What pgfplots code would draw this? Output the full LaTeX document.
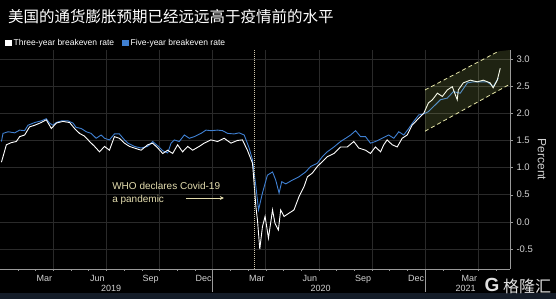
\documentclass[border=0pt]{standalone}
\usepackage{pgfplots}
\pgfplotsset{compat=1.18}
\usepackage{fontspec}
\setmainfont{Liberation Sans}
\newfontfamily\cjk{Noto Sans CJK SC}
\usetikzlibrary{arrows.meta}
\definecolor{fivey}{HTML}{3F80D2}
\definecolor{gridc}{HTML}{2A2A2A}
\definecolor{ticklab}{HTML}{D2D2D2}
\definecolor{annot}{HTML}{E3DCAE}
\definecolor{vline}{HTML}{CFC6AA}
\definecolor{hl}{HTML}{D6EC7A}
\definecolor{hldash}{HTML}{E6E6A8}
\definecolor{band}{HTML}{141C28}
\definecolor{axc}{HTML}{9A9A9A}

\begin{document}
\begin{tikzpicture}
\fill[black] (0pt,0pt) rectangle (556pt,299pt);
\fill[band] (0pt,0pt) rectangle (556pt,6pt);
\useasboundingbox (0pt,0pt) rectangle (556pt,299pt);
\node[anchor=west, text=white, font=\cjk\fontsize{15.5}{18}\selectfont, inner sep=0pt] at (8pt,282pt) {美国的通货膨胀预期已经远远高于疫情前的水平};
\begin{axis}[
  at={(0pt,30pt)}, anchor=south west, scale only axis,
  width=510pt, height=219pt,
  xmin=0, xmax=28.8, ymin=-0.868, ymax=3.166,
  clip=false,
  axis x line*=bottom, axis y line*=right,
  axis line style={color=axc, line width=0.6pt},
  xtick={2.5,5.5,...,26.5},
  xticklabels={Mar,Jun,Sep,Dec,Mar,Jun,Sep,Dec,Mar},
  major x tick style={draw=none},
  minor xtick={1,2,...,28},
  minor x tick style={color=axc},
  minor tick length=2pt,
  extra x ticks={3,6,9,12,15,18,21,24,27},
  extra x tick labels={},
  extra x tick style={xmajorgrids=true, major tick length=0pt, major grid style={color=gridc, line width=0.5pt}},
  ytick={-0.5,0,0.5,1,1.5,2,2.5,3},
  ymajorgrids=true,
  major grid style={color=gridc, line width=0.5pt},
  y tick style={color=axc},
  tick align=outside,
  major tick length=3pt,
  yticklabel style={/pgf/number format/fixed, /pgf/number format/precision=1, /pgf/number format/fixed zerofill, text=ticklab, font=\fontsize{9.5}{10}\selectfont},
  xticklabel style={text=ticklab, font=\fontsize{9}{10}\selectfont},
  /pgf/number format/assume math mode=true,
  legend style={at={(0.0098,1.032)}, anchor=west, draw=none, fill=none, text=white,
    font=\fontsize{8.5}{10}\selectfont, inner sep=0pt,
    /tikz/every even column/.append style={column sep=6pt}},
  legend columns=2,
  reverse legend,
  legend image code/.code={\fill[#1] (0pt,-2.8pt) rectangle (5.5pt,2.8pt);},
]
\addplot[color=fivey, line width=0.9pt] table {
0.08 1.48
0.17 1.63
0.46 1.66
0.83 1.64
1.11 1.69
1.39 1.68
1.58 1.78
1.96 1.83
2.33 1.86
2.61 1.90
2.80 1.82
2.99 1.78
3.18 1.83
3.46 1.86
3.84 1.86
4.12 1.82
4.30 1.74
4.59 1.72
4.87 1.66
5.15 1.63
5.43 1.54
5.71 1.60
5.90 1.54
6.18 1.51
6.46 1.62
6.74 1.62
7.03 1.51
7.22 1.45
7.59 1.39
7.97 1.36
8.34 1.39
8.62 1.48
8.91 1.40
9.19 1.31
9.47 1.27
9.66 1.45
9.84 1.51
10.12 1.48
10.41 1.60
10.69 1.54
10.97 1.57
11.35 1.63
11.63 1.69
11.91 1.68
12.29 1.69
12.57 1.68
12.85 1.63
13.22 1.62
13.50 1.64
13.79 1.60
14.07 1.36
14.26 1.14
14.45 0.65
14.60 0.22
14.82 0.53
15.10 0.86
15.39 0.92
15.57 0.77
15.76 0.53
15.91 0.74
16.14 0.70
16.51 0.77
16.88 0.83
17.26 0.92
17.54 1.02
17.92 1.08
18.20 1.20
18.48 1.29
18.86 1.38
19.23 1.48
19.52 1.54
19.80 1.60
20.08 1.68
20.36 1.57
20.64 1.57
20.92 1.45
21.20 1.48
21.58 1.54
21.95 1.60
22.24 1.54
22.52 1.66
22.80 1.60
23.08 1.72
23.36 1.85
23.65 1.97
23.93 1.99
24.19 2.03
24.47 2.12
24.87 2.25
25.26 2.28
25.60 2.40
25.99 2.37
26.39 2.56
26.73 2.58
27.12 2.58
27.52 2.58
27.85 2.49
28.14 2.65
};
\addlegendentry{Five-year breakeven rate}
\addplot[color=white, line width=0.9pt] table {
0.08 1.10
0.17 1.20
0.36 1.42
0.64 1.46
0.92 1.48
1.11 1.57
1.39 1.60
1.67 1.75
1.96 1.78
2.33 1.83
2.61 1.88
2.90 1.72
3.18 1.82
3.55 1.85
3.93 1.83
4.21 1.72
4.49 1.63
4.77 1.58
5.06 1.48
5.34 1.39
5.62 1.29
5.90 1.39
6.18 1.32
6.46 1.57
6.74 1.54
7.03 1.45
7.31 1.39
7.59 1.36
7.97 1.32
8.34 1.42
8.62 1.45
8.91 1.36
9.19 1.26
9.47 1.32
9.75 1.26
10.03 1.42
10.31 1.29
10.60 1.39
10.88 1.32
11.25 1.39
11.53 1.45
11.91 1.51
12.29 1.48
12.66 1.54
13.04 1.45
13.41 1.50
13.69 1.51
13.97 1.32
14.26 1.08
14.45 0.28
14.54 0.03
14.67 -0.50
14.82 -0.09
14.97 0.10
15.16 -0.30
15.39 0.22
15.53 -0.03
15.72 -0.15
15.85 0.22
16.04 0.10
16.32 0.16
16.60 0.22
16.88 0.46
17.17 0.65
17.36 0.83
17.64 0.90
17.92 1.02
18.20 1.11
18.48 1.20
18.86 1.26
19.23 1.38
19.61 1.38
19.98 1.48
20.26 1.36
20.64 1.32
20.92 1.26
21.20 1.38
21.49 1.29
21.67 1.42
21.86 1.51
22.15 1.42
22.43 1.38
22.71 1.54
22.99 1.60
23.27 1.78
23.65 1.91
23.93 2.00
24.19 2.19
24.42 2.25
24.70 2.37
24.98 2.31
25.26 2.43
25.54 2.49
25.82 2.25
25.88 2.43
26.16 2.56
26.56 2.61
26.95 2.58
27.29 2.61
27.68 2.56
27.85 2.47
28.08 2.61
28.25 2.83
};
\addlegendentry{Three-year breakeven rate}
% highlighted channel
\addplot[fill=hl, fill opacity=0.15, draw=none, forget plot] coordinates {(24,1.67) (24,2.43) (28.14,3.14) (28.8,3.166) (28.8,2.53)} -- cycle;
\addplot[hldash, dash pattern=on 4pt off 3pt, line width=0.8pt, forget plot] coordinates {(24,2.43) (28.14,3.14)};
\addplot[hldash, dash pattern=on 4pt off 3pt, line width=0.8pt, forget plot] coordinates {(24,1.67) (28.7,2.52)};
% pandemic line
\draw[vline, dash pattern=on 1pt off 1pt, line width=1pt] (axis cs:14.39,-0.868) -- (axis cs:14.39,3.166);
\node[anchor=west, align=left, text=annot, font=\fontsize{10}{13}\selectfont, inner sep=0pt] at (axis cs:6.33,0.523) {WHO declares Covid-19\\a pandemic};
\draw[annot, -{Stealth[length=4pt,width=4pt]}, line width=0.8pt] (axis cs:10.5,0.44) -- (axis cs:12.64,0.44);
% year separators and labels
\draw[axc, line width=0.5pt] (axis cs:12,-0.868) -- ([yshift=-23pt]axis cs:12,-0.868);
\draw[axc, line width=0.5pt] (axis cs:24,-0.868) -- ([yshift=-23pt]axis cs:24,-0.868);
\node[text=ticklab, font=\fontsize{9}{10}\selectfont] at ([yshift=-19pt]axis cs:6.28,-0.868) {2019};
\node[text=ticklab, font=\fontsize{9}{10}\selectfont] at ([yshift=-19pt]axis cs:18.1,-0.868) {2020};
\node[text=ticklab, font=\fontsize{9}{10}\selectfont] at ([yshift=-19pt]axis cs:26.3,-0.868) {2021};
\node[rotate=-90, text=ticklab, font=\fontsize{12}{13}\selectfont] at ([xshift=32pt]rel axis cs:1,0.5) {Percent};
\end{axis}
\node[text=white!88!black, font=\fontspec{Liberation Sans}\bfseries\fontsize{19}{20}\selectfont, inner sep=0pt] at (492pt,14pt) {G};
\node[anchor=west, text=white!88!black, font=\cjk\fontsize{16}{18}\selectfont, inner sep=0pt] at (503pt,13pt) {格隆汇};
\end{tikzpicture}
\end{document}
